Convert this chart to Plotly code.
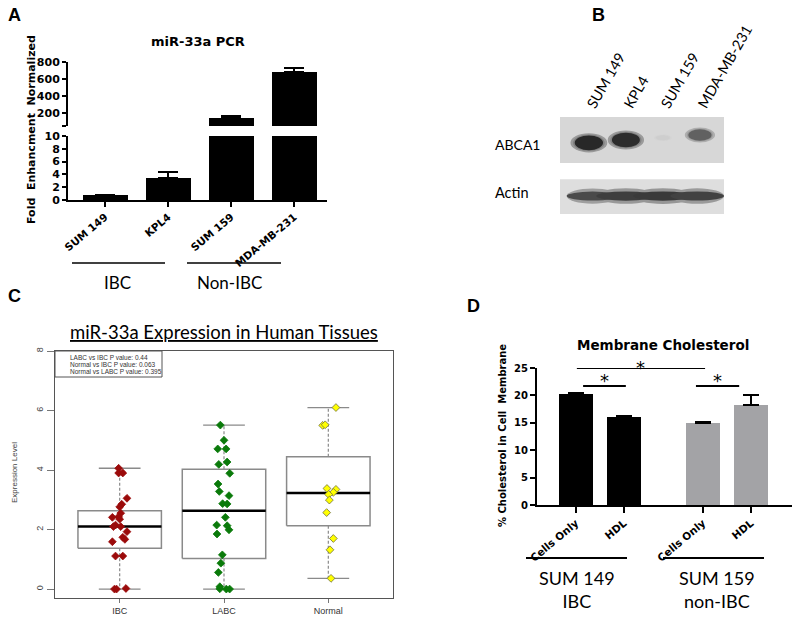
import plotly.graph_objects as go

W, H = 800, 626


def px(x):
    return x / W


def py(y):
    return 1 - y / H


# ---------------- Panel A : miR-33a PCR ----------------
a_cells = ["SUM 149", "KPL4", "SUM 159", "MDA-MB-231"]
a_fold = [0.8, 3.4, 141, 682]
a_sem = [0.05, 1.0, 24, 48]
a_lower_ticks = [0, 2, 4, 6, 8, 10]
a_upper_ticks = [200, 400, 600, 800]
a_groups = ["IBC", "Non-IBC"]

# ---------------- Panel B : western blot ----------------
b_lanes = ["SUM 149", "KPL4", "SUM 159", "MDA-MB-231"]
b_rows = ["ABCA1", "Actin"]
b_abca1 = [0.92, 0.90, 0.05, 0.62]
b_abca1_shift = [0.05, 0.0, -0.04, -0.09]
b_actin = [0.74, 0.80, 0.82, 0.78]

# ---------------- Panel C : box plot ----------------
c_groups = ["IBC", "LABC", "Normal"]
c_q1 = [1.37, 1.03, 2.13]
c_med = [2.10, 2.63, 3.23]
c_q3 = [2.63, 4.03, 4.45]
c_lo = [0.0, 0.0, 0.36]
c_hi = [4.06, 5.51, 6.10]
c_ibc_y = [4.06, 3.90, 3.90, 3.05, 2.85, 2.76, 2.55, 2.43, 2.41, 2.35, 2.15,
           2.10, 2.10, 1.93, 1.74, 1.67, 1.59, 1.11, 1.11, 0.00, 0.00, 0.02]
c_ibc_jit = [-0.01, -0.01, 0.03, 0.07, 0.02, 0.00, 0.01, -0.01, -0.07, 0.00, -0.04,
             -0.06, 0.01, 0.07, 0.03, 0.05, -0.07, -0.04, 0.03, -0.05, -0.03, 0.06]
c_labc_y = [5.51, 5.00, 4.71, 4.71, 4.27, 4.19, 3.89, 3.53, 3.28, 3.14, 2.87, 2.86,
            2.41, 2.15, 2.13, 1.99, 1.85, 1.15, 0.87, 0.56, 0.08, 0.01, 0.00, 0.00]
c_labc_jit = [-0.035, 0.0, -0.06, 0.02, 0.03, -0.05, 0.055, -0.057, -0.045, 0.048, -0.013, 0.03,
              0.013, -0.07, 0.03, 0.048, -0.067, -0.016, -0.03, -0.054, -0.04, -0.04, 0.022, 0.054]
c_norm_y = [6.10, 5.50, 5.52, 3.38, 3.35, 3.25, 3.18, 2.99, 2.57, 1.70, 1.32, 0.36]
c_norm_jit = [0.073, -0.054, -0.03, -0.013, 0.073, 0.048, 0.003, 0.01, -0.016, 0.048, 0.016, 0.026]
c_pvalues = ["LABC vs IBC P value: 0.44",
             "Normal vs IBC P value: 0.063",
             "Normal vs LABC P value: 0.395"]
c_yticks = [0, 2, 4, 6, 8]

# ---------------- Panel D : membrane cholesterol ----------------
d_labels = ["Cells Only", "HDL", "Cells Only", "HDL"]
d_group = [0, 0, 1, 1]
d_mean = [20.3, 16.1, 14.9, 18.3]
d_sem = [0.2, 0.15, 0.2, 1.7]
d_groups = ["SUM 149<br>IBC", "SUM 159<br>non-IBC"]
# significance brackets: (x start, x end, level) in axis units
d_sig = [(0.02, 2.69, 25.0), (0.15, 1.04, 21.7), (2.5, 3.4, 21.7)]

BOLD = "DejaVu Sans"
SANS = "Lato"
R_FONT = "Liberation Sans"

fig = go.Figure()

# ===== Panel A =====
a_x = list(range(len(a_cells)))
for ax, ay in (("x", "y"), ("x2", "y2")):
    fig.add_trace(go.Bar(
        x=a_x, y=a_fold, xaxis=ax, yaxis=ay, width=0.71,
        marker=dict(color="black", line=dict(width=0)),
        error_y=dict(type="data", array=a_sem, arrayminus=[0] * 4, symmetric=False,
                     color="black", thickness=2, width=10),
        showlegend=False, hoverinfo="skip"))

# ===== Panel B (blot bands as ellipses on lane axis) =====
def grey(level):
    v = int(round(max(0, min(255, level))))
    return f"rgb({v},{v},{v})"

shapes = []
blot_bg = [(-0.41, 0.41, "#d7d7d7"), (0.70, 1.32, "#dedede")]
for y0, y1, col in blot_bg:
    shapes.append(dict(type="rect", xref="x3", yref="y3", x0=-0.78, x1=3.65, y0=y0, y1=y1,
                       fillcolor=col, line=dict(width=0), layer="below"))
bg_level = 215
for i, inten in enumerate(b_abca1):
    w = 0.35 + 0.45 * inten
    h = 0.08 + 0.20 * inten
    cy = 0 + b_abca1_shift[i]
    dark = bg_level - 190 * inten
    for scale, lev in ((1.3, bg_level - 0.35 * (bg_level - dark)),
                       (1.12, (bg_level + dark) / 2), (1.0, dark)):
        shapes.append(dict(type="circle", xref="x3", yref="y3",
                           x0=i - w * scale / 2, x1=i + w * scale / 2,
                           y0=cy - h * scale / 2, y1=cy + h * scale / 2,
                           fillcolor=grey(lev), line=dict(width=0)))
# actin: continuous loading-control band made of overlapping lane ellipses
for layer_idx, scale in enumerate((1.7, 1.0)):
    for i, inten in enumerate(b_actin):
        w = 1.6
        h = 0.10 + 0.08 * inten
        dark = 222 - 200 * inten
        lev = dark if layer_idx == 1 else (222 + dark) / 2 + 10
        x0 = max(i - w / 2, -0.6)
        x1 = min(i + w / 2, 3.65)
        shapes.append(dict(type="circle", xref="x3", yref="y3",
                           x0=x0, x1=x1,
                           y0=1 - h * scale / 2, y1=1 + h * scale / 2,
                           fillcolor=grey(lev), line=dict(width=0)))

fig.add_trace(go.Scatter(x=list(range(4)), y=[0] * 4, xaxis="x3", yaxis="y3",
                         mode="markers", marker=dict(opacity=0), showlegend=False,
                         hoverinfo="skip"))

# ===== Panel C =====
bw = 0.4
cap = 0.2
for i, g in enumerate(c_groups):
    xc = i + 1
    fig.add_trace(go.Scatter(x=[xc, xc, None, xc, xc],
                             y=[c_q3[i], c_hi[i], None, c_q1[i], c_lo[i]],
                             xaxis="x4", yaxis="y4", mode="lines",
                             line=dict(color="#8a8a8a", width=1.2, dash="3px,2px"),
                             showlegend=False, hoverinfo="skip"))
    fig.add_trace(go.Scatter(x=[xc - cap, xc + cap, None, xc - cap, xc + cap],
                             y=[c_hi[i], c_hi[i], None, c_lo[i], c_lo[i]],
                             xaxis="x4", yaxis="y4", mode="lines",
                             line=dict(color="#8a8a8a", width=1.3),
                             showlegend=False, hoverinfo="skip"))
    fig.add_trace(go.Scatter(x=[xc - bw, xc + bw, xc + bw, xc - bw, xc - bw],
                             y=[c_q1[i], c_q1[i], c_q3[i], c_q3[i], c_q1[i]],
                             xaxis="x4", yaxis="y4", mode="lines", fill="toself",
                             fillcolor="white",
                             line=dict(color="#8a8a8a", width=1.5),
                             showlegend=False, hoverinfo="skip"))
    fig.add_trace(go.Scatter(x=[xc - bw, xc + bw], y=[c_med[i], c_med[i]],
                             xaxis="x4", yaxis="y4", mode="lines",
                             line=dict(color="black", width=2.5),
                             showlegend=False, hoverinfo="skip"))

pts = [(c_ibc_y, c_ibc_jit, "#9b0a0a", "#9b0a0a"),
       (c_labc_y, c_labc_jit, "#0a7a0a", "#0a7a0a"),
       (c_norm_y, c_norm_jit, "#ffff00", "#707040")]
for i, (ys, js, fillc, linec) in enumerate(pts):
    fig.add_trace(go.Scatter(x=[i + 1 + j for j in js], y=ys, xaxis="x4", yaxis="y4",
                             mode="markers",
                             marker=dict(symbol="diamond", size=6, color=fillc,
                                         line=dict(color=linec, width=0.8)),
                             showlegend=False, hoverinfo="skip"))

# ===== Panel D =====
gap = 0.646
d_x = [i + gap * g for i, g in enumerate(d_group)]
fig.add_trace(go.Bar(
    x=d_x, y=d_mean, xaxis="x5", yaxis="y5", width=0.71,
    marker=dict(color=["black" if g == 0 else "#a3a3a6" for g in d_group], line=dict(width=0)),
    error_y=dict(type="data", array=d_sem, arrayminus=[0] * 4, symmetric=False,
                 color="black", thickness=2, width=8),
    showlegend=False, hoverinfo="skip"))

for x0, x1, lvl in d_sig:
    shapes.append(dict(type="line", xref="x5", yref="y5", x0=x0, x1=x1, y0=lvl, y1=lvl,
                       line=dict(color="black", width=2)))

for x0, x1, y, wdt in ((72, 165, 263, 1.5), (187, 281, 263, 1.3),
                       (526, 627, 558, 2), (663, 764, 558, 2)):
    shapes.append(dict(type="line", xref="paper", yref="paper", x0=px(x0), x1=px(x1),
                       y0=py(y), y1=py(y), line=dict(color="black", width=wdt)))
shapes.append(dict(type="rect", xref="paper", yref="paper", x0=px(55), x1=px(162),
                   y0=py(377), y1=py(351), line=dict(color="#555", width=1),
                   fillcolor="white"))

ann = []


def text(x, y, t, size, family, color="black", weight="normal", angle=0,
         xanchor="center", yanchor="middle"):
    ann.append(dict(x=px(x), y=py(y), xref="paper", yref="paper", text=t,
                    showarrow=False, textangle=angle, xanchor=xanchor, yanchor=yanchor,
                    font=dict(size=size, family=family, color=color, weight=weight)))


text(14, 15, "A", 18, "Liberation Sans", weight="bold")
text(598, 15, "B", 18, "Liberation Sans", weight="bold")
text(14, 296, "C", 18, "Liberation Sans", weight="bold")
text(473, 306, "D", 18, "Liberation Sans", weight="bold")

text(198, 42, "miR-33a PCR", 13, BOLD, weight="bold")
text(31, 130, "Fold  Enhancment  Normalized", 11, BOLD, weight="bold", angle=-90)
text(117, 282, a_groups[0], 17, SANS)
text(230, 282, a_groups[1], 17, SANS)

text(493, 144, b_rows[0], 14, SANS, xanchor="left")
text(493, 193, b_rows[1], 14.5, SANS, xanchor="left")

text(224, 332, "<u>miR-33a Expression in Human Tissues</u>", 18.5, SANS)
text(14, 473, "Expression Level", 8, R_FONT, color="#444", angle=-90)
for k, t in enumerate(c_pvalues):
    text(68, 357 + 7 * k, t, 6.5, R_FONT, color="#333", xanchor="left")

text(663, 345, "Membrane Cholesterol", 13.5, BOLD, weight="bold")
text(502, 435, "% Cholesterol in Cell  Membrane", 10, BOLD, weight="bold", angle=-90)
text(577, 589, d_groups[0], 18, SANS)
text(717, 589, d_groups[1], 18, SANS)
for k, (x0, x1, lvl) in enumerate(d_sig):
    ann.append(dict(x=(x0 + x1) / 2, y=lvl, xref="x5", yref="y5", text="*",
                    showarrow=False, yanchor="top", yshift=13 if k == 0 else 18,
                    font=dict(size=18, family=BOLD, color="black")))

axA = dict(showgrid=False, zeroline=False)
fig.update_layout(
    autosize=True, margin=dict(l=0, r=0, t=0, b=0, autoexpand=False),
    paper_bgcolor="white", plot_bgcolor="rgba(0,0,0,0)", bargap=0,
    shapes=shapes, annotations=ann,
    xaxis=dict(domain=[px(68), px(327)], anchor="y", range=[-0.59, 3.52],
               tickvals=a_x, ticktext=a_cells, tickangle=-40,
               tickfont=dict(family=BOLD, size=10.5, weight="bold", color="black"),
               showline=True, linecolor="black", linewidth=2,
               ticks="outside", ticklen=5, tickwidth=2, tickcolor="black", **axA),
    yaxis=dict(domain=[py(200), py(136)], anchor="x", range=[0, 10],
               tickvals=a_lower_ticks,
               tickfont=dict(family=BOLD, size=11, weight="bold", color="black"),
               showline=True, linecolor="black", linewidth=2,
               ticks="outside", ticklen=4, tickwidth=2, tickcolor="black", **axA),
    xaxis2=dict(domain=[px(68), px(327)], anchor="y2", range=[-0.59, 3.52],
                visible=False, **axA),
    yaxis2=dict(domain=[py(126), py(62)], anchor="x2", range=[47, 800],
                tickvals=[47] + a_upper_ticks, ticktext=[""] + [str(v) for v in a_upper_ticks],
                tickfont=dict(family=BOLD, size=11, weight="bold", color="black"),
                showline=True, linecolor="black", linewidth=2,
                ticks="outside", ticklen=4, tickwidth=2, tickcolor="black", **axA),
    xaxis3=dict(domain=[px(560), px(724)], anchor="y3", range=[-0.78, 3.65], side="top",
                tickvals=list(range(4)), ticktext=b_lanes, tickangle=-60,
                tickfont=dict(family=SANS, size=14.5, color="black"),
                showline=False, ticks="", **axA),
    yaxis3=dict(domain=[py(214), py(117)], anchor="x3", range=[1.32, -0.41],
                visible=False, **axA),
    xaxis4=dict(domain=[px(55), px(393)], anchor="y4", range=[0.38, 3.62],
                tickvals=[1, 2, 3], ticktext=c_groups,
                tickfont=dict(family=R_FONT, size=9, color="#333"),
                showline=True, mirror=True, linecolor="#555", linewidth=1,
                ticks="outside", ticklen=4, tickcolor="#777", **axA),
    yaxis4=dict(domain=[py(598), py(351)], anchor="x4", range=[-0.3, 8.0],
                tickvals=c_yticks, tickangle=-90,
                tickfont=dict(family=R_FONT, size=9, color="#444"),
                showline=True, mirror=True, linecolor="#555", linewidth=1,
                ticks="outside", ticklen=7, tickcolor="#777", **axA),
    xaxis5=dict(domain=[px(537), px(792)], anchor="y5", range=[-0.81, 4.5],
                tickvals=d_x, ticktext=d_labels, tickangle=-40,
                tickfont=dict(family=BOLD, size=10.5, weight="bold", color="black"),
                showline=True, linecolor="black", linewidth=2,
                ticks="outside", ticklen=6, tickwidth=2, tickcolor="black", **axA),
    yaxis5=dict(domain=[py(505), py(368)], anchor="x5", range=[0, 25], dtick=5,
                tickfont=dict(family=BOLD, size=10, weight="bold", color="black"),
                showline=True, linecolor="black", linewidth=2,
                ticks="outside", ticklen=5, tickwidth=2, tickcolor="black", **axA),
)

# the plot div is pinned to the window's top-left corner and fills it exactly
fig.write_html("out.html", config={"displayModeBar": False, "responsive": True},
               default_width="100vw; position:fixed; left:0px; top:0px",
               default_height="100vh")
